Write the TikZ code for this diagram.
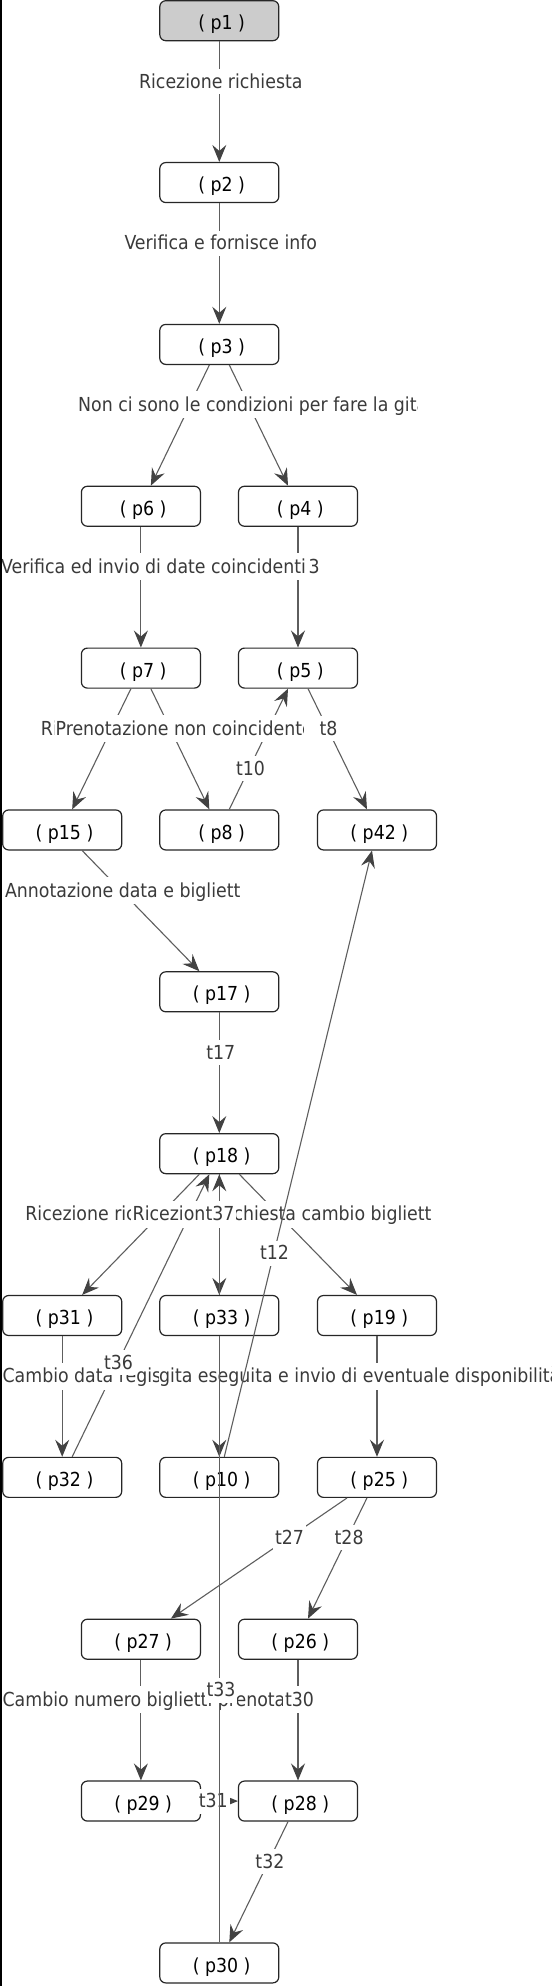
\documentclass[tikz,border=0pt]{standalone}
\usepackage{fontspec}
\setmainfont{DejaVu Sans Condensed}
\usetikzlibrary{arrows.meta}
\definecolor{edgecol}{HTML}{5E5E5E}
\definecolor{tipcol}{HTML}{424242}
\definecolor{lblcol}{HTML}{3A3A3A}
\definecolor{bordcol}{HTML}{262626}
\definecolor{startfill}{HTML}{CCCCCC}
\newcommand\mylblfont{\fontsize{19.3pt}{23pt}\selectfont}
\tikzset{
  place/.style={draw=bordcol, line width=1.2pt, rounded corners=6pt, fill=white,
    minimum width=119pt, minimum height=40pt, inner sep=0pt, font=\mylblfont,
    text=black, text height=20pt, text depth=1.8pt},
  pnline/.style={draw=edgecol, line width=1.1pt},
  pnarrow/.style={pnline, -{Stealth[length=17pt,width=14pt,inset=6pt,color=tipcol]}},
  lblbox/.style={fill=white, inner xsep=2pt, inner ysep=4.3pt, text height=15pt,
    text depth=1.4pt, font=\mylblfont, text=lblcol, anchor=base},
  lbltxt/.style={inner sep=0pt, font=\mylblfont, text=lblcol, anchor=base west}
}
% clipped label: name, text-left, box-left, box-right, y, text
\newcommand\clab[6]{%
  \begin{scope}
    \clip (#3,#5-13.5) rectangle (#4,#5+13.5);
    \fill[white] (#3,#5-13.5) rectangle (#4,#5+13.5);
    \node[lbltxt] (#1) at (#2,#5+6.8) {#6};
  \end{scope}}
% centred label: name, x, y, text
\newcommand\tlab[4]{\node[lblbox] (#1) at (#2,#3+6.8) {#4};}
\newcommand\plc[4][]{\node[place,#1] (#2) at (#3,#4) {\hspace*{4.6pt}( #2 )};}
\begin{document}
\begin{tikzpicture}[x=1pt,y=-1pt]
\useasboundingbox (0,0) rectangle (557,1986);
\fill[white] (0,0) rectangle (557,1986);
% places
\plc[fill=startfill]{p1}{219.3}{20.7}
\plc{p2}{219.3}{182.55}
\plc{p3}{219.3}{344.4}
\plc{p6}{140.9}{506.25}
\plc{p4}{298}{506.25}
\plc{p7}{140.9}{668.1}
\plc{p5}{298}{668.1}
\plc{p15}{62.2}{829.95}
\plc{p8}{219.3}{829.95}
\plc{p42}{377}{829.95}
\plc{p17}{219.3}{991.8}
\plc{p18}{219.3}{1153.65}
\plc{p31}{62.2}{1315.5}
\plc{p33}{219.3}{1315.5}
\plc{p19}{377}{1315.5}
\plc{p32}{62.2}{1477.35}
\plc{p10}{219.3}{1477.35}
\plc{p25}{377}{1477.35}
\plc{p27}{140.9}{1639.2}
\plc{p26}{298}{1639.2}
\plc{p29}{140.9}{1801.05}
\plc{p28}{298}{1801.05}
\plc{p30}{219.3}{1962.9}
% arcs
\draw[pnarrow] (p1) -- (p2);
\draw[pnarrow] (p2) -- (p3);
\draw[pnarrow] (p3) -- (p6);
\draw[pnarrow] (p3) -- (p4);
\draw[pnarrow] (p6) -- (p7);
\draw[pnarrow] (p4) -- (p5);
\draw[pnarrow] (p7) -- (p15);
\draw[pnarrow] (p7) -- (p8);
\draw[pnarrow] (p8) -- (p5);
\draw[pnarrow] (p5) -- (p42);
\draw[pnarrow] (p15) -- (p17);
\draw[pnarrow] (p17) -- (p18);
\draw[pnarrow] (p18) -- (p31);
\draw[pnarrow] (p18) -- (p33);
\draw[pnarrow] (p33) -- (p18);
\draw[pnarrow] (p18) -- (p19);
\draw[pnarrow] (p32) -- (p18);
\draw[pnarrow] (p31) -- (p32);
\draw[pnarrow] (p33) -- (p10);
\draw[pnarrow] (p19) -- (p25);
\draw[pnarrow] (p25) -- (p27);
\draw[pnarrow] (p25) -- (p26);
\draw[pnarrow] (p27) -- (p29);
\draw[pnarrow] (p26) -- (p28);
\draw[pnarrow] (p29) -- (p28);
\draw[pnarrow] (p28) -- (p30);
% labels
\tlab{l1}{220.8}{81.2}{Ricezione richiesta}
\tlab{l2}{220.8}{243.05}{Verifica e fornisce info}
\clab{l3}{78}{76}{417.8}{404.9}{Non ci sono le condizioni per fare la gita}
\node[lblbox, anchor=base west] (l5) at (299.5,573.55) {t3};
\clab{l4}{1}{-8}{308.2}{566.75}{Verifica ed invio di date coincidenti}
\clab{l6}{40.6}{38.6}{54.3}{728.6}{Ri}
\clab{l7}{55.5}{54.3}{303.2}{728.6}{Prenotazione non coincidente}
\tlab{l8}{328.5}{728.6}{t8}
\tlab{l9}{250.5}{768.3}{t10}
\clab{l10}{4.9}{2.9}{240.6}{890.45}{Annotazione data e biglietti}
\tlab{l11}{220.8}{1052.3}{t17}
\clab{l12}{25.2}{23.2}{131}{1214.15}{Ricezione richiesta}
\clab{l13}{132.5}{131}{431.6}{1214.15}{Ricezione richiesta cambio biglietti}
\tlab{l14}{220}{1214.15}{t37}
\clab{l15}{2.4}{0}{158.5}{1376}{Cambio data registrata}
\clab{l16}{159}{158.5}{551}{1376}{gita eseguita e invio di eventuale disponibilità}
\tlab{l17}{118.5}{1362.5}{t36}
\tlab{l18}{289.5}{1537.85}{t27}
\tlab{l19}{349.1}{1537.85}{t28}
\clab{l20}{2.4}{0}{300}{1699.7}{Cambio numero biglietti prenotati}
\tlab{l21}{299.5}{1699.7}{t30}
\tlab{l22}{213.3}{1801.05}{t31}
\tlab{l23}{269.9}{1861.55}{t32}
% long arcs drawn over the labels
\draw[pnarrow] (p10) -- (p42);
\draw[pnline] (p33) -- (p30);
\tlab{l24}{274.5}{1253}{t12}
\tlab{l25}{221}{1690}{t33}
% left frame bar
\fill[black] (0,0) rectangle (2,1986);
\end{tikzpicture}
\end{document}
